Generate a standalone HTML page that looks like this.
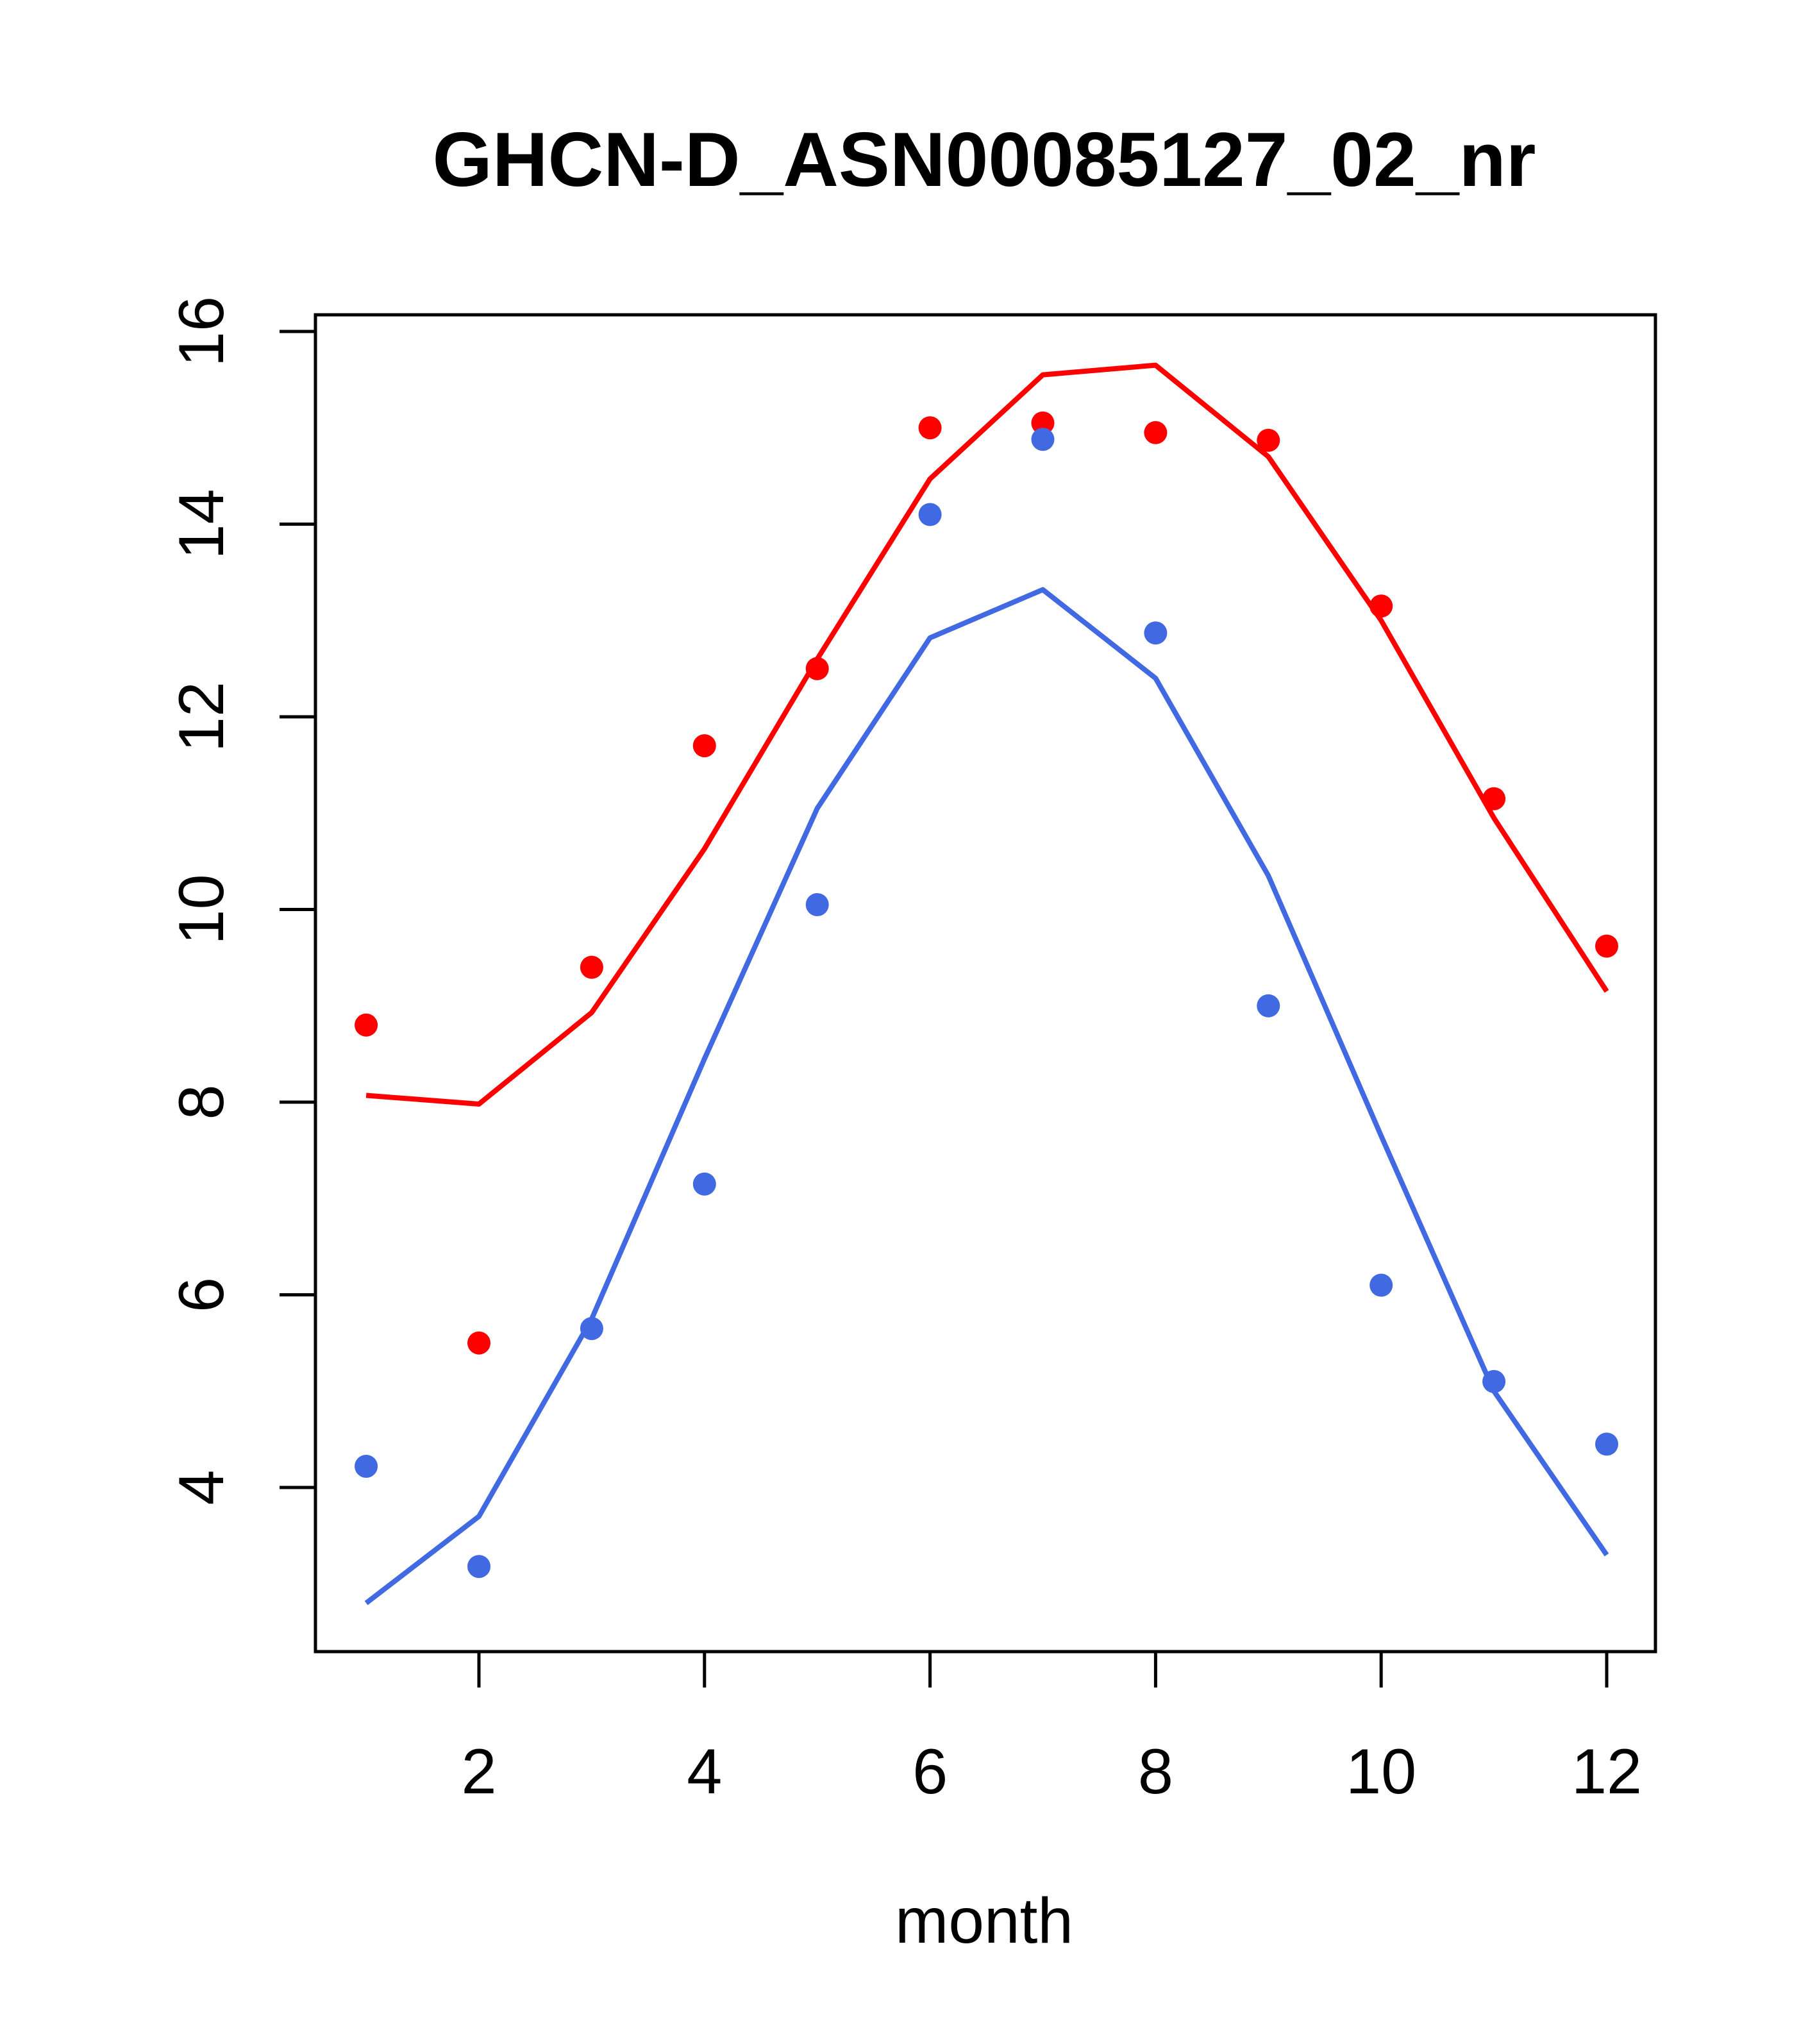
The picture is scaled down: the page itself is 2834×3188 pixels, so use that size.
<!DOCTYPE html>
<html><head><meta charset="utf-8"><style>
html,body{margin:0;padding:0;background:#fff;}
svg{display:block;}
text{font-family:"Liberation Sans",Arial,sans-serif;fill:#000;}
</style></head><body>
<svg id="chart" width="2834" height="3188" viewBox="0 0 2834 3188">
<text x="1535" y="290" text-anchor="middle" font-size="120" font-weight="bold">GHCN-D_ASN00085127_02_nr</text>
<rect x="492" y="491" width="2090" height="2085" fill="none" stroke="#000" stroke-width="5"/>
<g id="axes"></g>
<g id="series"></g>
<text x="1535" y="3030" text-anchor="middle" font-size="100">month</text>
</svg>
<script>
const months = [1,2,3,4,5,6,7,8,9,10,11,12];
const redPoints = [8.8,5.5,9.4,11.7,12.5,15.0,15.05,14.95,14.87,13.15,11.15,9.62];
const redLine = [8.07,7.98,8.93,10.63,12.6,14.47,15.55,15.65,14.7,13.0,10.95,9.15];
const bluePoints = [4.22,3.18,5.65,7.15,10.05,14.1,14.88,12.87,9.0,6.1,5.1,4.45];
const blueLine = [2.8,3.7,5.75,8.45,11.05,12.82,13.32,12.4,10.35,7.65,5.0,3.3];
const xTicks = [2,4,6,8,10,12];
const yTicks = [4,6,8,10,12,14,16];

const NS = "http://www.w3.org/2000/svg";
function xs(v){ return 747 + (v-2)*(2506-747)/10; }
function ys(v){ return 2320 - (v-4)*(2320-517)/12; }
function mk(tag, attrs, parent){
  const e = document.createElementNS(NS, tag);
  for (const k in attrs) e.setAttribute(k, attrs[k]);
  parent.appendChild(e);
  return e;
}
const axes = document.getElementById('axes');
const series = document.getElementById('series');
xTicks.forEach(t => {
  const l = mk('line', {x1: xs(t), x2: xs(t), y1: 2576, y2: 2632, stroke: '#000', 'stroke-width': 5}, axes);
  
  
  const tx = mk('text', {x: xs(t), y: 2797, 'text-anchor': 'middle', 'font-size': 99}, axes);
  tx.textContent = t;
  
  
});
yTicks.forEach(t => {
  const l = mk('line', {x1: 436, x2: 492, y1: ys(t), y2: ys(t), stroke: '#000', 'stroke-width': 5}, axes);
  
  
  const tx = mk('text', {x: 0, y: 0, 'text-anchor': 'middle', 'font-size': 99, transform: 'translate(348,' + ys(t) + ') rotate(-90)'}, axes);
  tx.textContent = t;
  
  
});
function drawLine(vals, color, name){
  const pts = months.map((m,i) => xs(m) + ',' + ys(vals[i])).join(' ');
  const p = mk('polyline', {points: pts, fill: 'none', stroke: color, 'stroke-width': 8, 'stroke-linejoin': 'round'}, series);
  
  
}
function drawPoints(vals, color, name){
  months.forEach((m,i) => {
    const c = mk('circle', {cx: xs(m), cy: ys(vals[i]), r: 18, fill: color}, series);
    
    
  });
}
drawLine(redLine, '#ff0000', 'red-line');
drawLine(blueLine, '#4169e1', 'blue-line');
drawPoints(redPoints, '#ff0000', 'red-point');
drawPoints(bluePoints, '#4169e1', 'blue-point');
</script>
</body></html>
